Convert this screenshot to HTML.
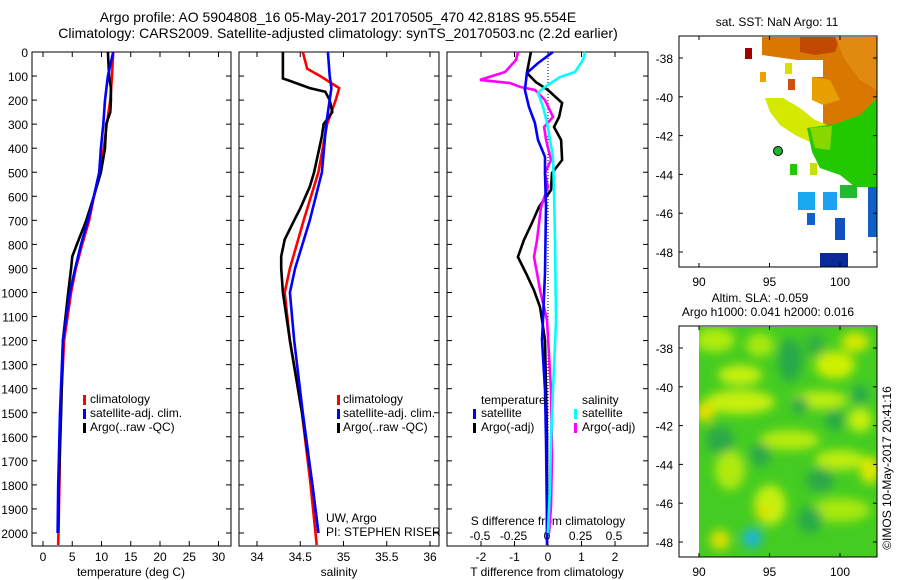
<!DOCTYPE html>
<html><head><meta charset="utf-8"><style>
html,body{margin:0;padding:0;background:#fff}
svg{display:block;font-family:"Liberation Sans",sans-serif}
text{fill:#000}
</style></head><body>
<svg id="fig" width="900" height="580" viewBox="0 0 900 580" xmlns="http://www.w3.org/2000/svg">
<defs>
<filter id="blur4" x="-50%" y="-50%" width="200%" height="200%"><feGaussianBlur stdDeviation="5"/></filter>
<clipPath id="slaclip"><rect x="699" y="327" width="178" height="230"/></clipPath>
</defs>
<g font-size="14" text-anchor="middle">
<text x="338" y="22">Argo profile: AO 5904808_16 05-May-2017 20170505_470 42.818S 95.554E</text>
<text x="338" y="38">Climatology: CARS2009. Satellite-adjusted climatology: synTS_20170503.nc (2.2d earlier)</text>
</g>
<g id="p1"></g>
<g id="p2"></g>
<g id="p3"></g>

<!-- SST map -->
<g>
<text x="777" y="26" font-size="12" text-anchor="middle">sat. SST: NaN Argo: 11</text>
<rect x="679" y="36" width="198" height="231" fill="#fff"/>
<g>
<polygon points="762,37 877,37 877,133 860,135 848,150 835,143 823,128 823,100 812,100 812,77 797,77 797,60 762,55" fill="#d87800"/>
<polygon points="800,37 840,37 835,52 815,55 800,52" fill="#c04800"/>
<polygon points="835,37 877,37 877,90 860,80 845,60" fill="#e08a10"/>
<polygon points="812,77 830,80 840,100 823,105 812,100" fill="#e8a000"/>
<polygon points="797,60 823,60 823,77 797,77" fill="#fff"/>
<polygon points="765,98 783,98 800,108 815,120 830,126 830,146 812,143 795,135 780,125 770,112" fill="#d4e800"/>
<polygon points="807,128 835,124 860,115 877,98 877,187 855,187 840,175 820,168 812,152" fill="#22c800"/>
<polygon points="810,128 832,126 830,150 815,148" fill="#88d800"/>
<polygon points="745,48 752,48 752,59 745,59" fill="#a00000"/>
<polygon points="760,72 766,72 766,82 760,82" fill="#f0a000"/>
<polygon points="785,63 792,63 792,74 785,74" fill="#d8e000"/>
<polygon points="788,79 795,79 795,90 788,90" fill="#d05010"/>
<polygon points="790,164 797,164 797,175 790,175" fill="#22c800"/>
<polygon points="810,163 817,163 817,175 810,175" fill="#c8e000"/>
<polygon points="840,185 857,185 857,198 840,198" fill="#22b830"/>
<polygon points="798,192 815,192 815,210 798,210" fill="#18a8f0"/>
<polygon points="823,192 837,192 837,210 823,210" fill="#20a0f0"/>
<polygon points="807,213 815,213 815,225 807,225" fill="#1060d0"/>
<polygon points="835,218 845,218 845,240 835,240" fill="#1050c0"/>
<polygon points="868,187 877,187 877,237 868,237" fill="#1060c8"/>
<polygon points="820,253 848,253 848,267 820,267" fill="#0a2a98"/>
</g>
<circle cx="778" cy="151" r="4.5" fill="#1cb82c" stroke="#000" stroke-width="1"/>
<rect x="679" y="36" width="198" height="231" fill="none" stroke="#000" stroke-width="1"/>
<g id="sstaxes"></g>
</g>

<!-- SLA map -->
<g>
<text x="760" y="302" font-size="12" text-anchor="middle">Altim. SLA: -0.059</text>
<text x="768" y="316" font-size="12" text-anchor="middle">Argo h1000: 0.041 h2000: 0.016</text>
<rect x="699" y="327" width="178" height="230" fill="#44cc22"/>
<g clip-path="url(#slaclip)">
<g filter="url(#blur4)">
<ellipse cx="715" cy="340" rx="20" ry="12" fill="#b0ec10"/>
<ellipse cx="740" cy="375" rx="22" ry="10" fill="#c8f010"/>
<ellipse cx="760" cy="345" rx="14" ry="12" fill="#a8e810"/>
<ellipse cx="835" cy="365" rx="20" ry="14" fill="#d0f000"/>
<ellipse cx="855" cy="342" rx="14" ry="10" fill="#d8e800"/>
<ellipse cx="740" cy="402" rx="35" ry="12" fill="#c8f010"/>
<ellipse cx="705" cy="412" rx="10" ry="10" fill="#e8e000"/>
<ellipse cx="820" cy="400" rx="28" ry="9" fill="#c0ee10"/>
<ellipse cx="860" cy="420" rx="12" ry="12" fill="#c8f010"/>
<ellipse cx="790" cy="440" rx="30" ry="10" fill="#b8ec10"/>
<ellipse cx="730" cy="470" rx="15" ry="20" fill="#b0ea10"/>
<ellipse cx="840" cy="460" rx="25" ry="10" fill="#c0ee10"/>
<ellipse cx="870" cy="470" rx="10" ry="14" fill="#e0e800"/>
<ellipse cx="770" cy="505" rx="16" ry="20" fill="#c8f010"/>
<ellipse cx="763" cy="512" rx="6" ry="6" fill="#e8d800"/>
<ellipse cx="720" cy="540" rx="10" ry="10" fill="#e0e000"/>
<ellipse cx="840" cy="510" rx="30" ry="12" fill="#a8e810"/>
<ellipse cx="790" cy="360" rx="12" ry="22" fill="#28a84a"/>
<ellipse cx="815" cy="345" rx="10" ry="12" fill="#30b040"/>
<ellipse cx="720" cy="440" rx="14" ry="14" fill="#2aa84a"/>
<ellipse cx="760" cy="455" rx="10" ry="12" fill="#2aa84a"/>
<ellipse cx="820" cy="480" rx="14" ry="12" fill="#2aa84a"/>
<ellipse cx="835" cy="420" rx="10" ry="10" fill="#28a84a"/>
<ellipse cx="800" cy="405" rx="8" ry="8" fill="#22a050"/>
<ellipse cx="860" cy="395" rx="8" ry="10" fill="#28a850"/>
<ellipse cx="810" cy="520" rx="12" ry="14" fill="#28aa48"/>
<ellipse cx="752" cy="538" rx="10" ry="10" fill="#20b8d0"/>
<ellipse cx="755" cy="540" rx="4" ry="4" fill="#10a8f0"/>
</g>
</g>
<rect x="679" y="327" width="20" height="230" fill="#fff"/>
<rect x="679" y="326" width="198" height="231" fill="none" stroke="#000" stroke-width="1"/>
<g id="slaaxes"></g>
<text transform="translate(891,468) rotate(-90)" font-size="12" text-anchor="middle">©IMOS 10-May-2017 20:41:16</text>
</g>

<script>
// ---------- data ----------
const depthTicks = [0,100,200,300,400,500,600,700,800,900,1000,1100,1200,1300,1400,1500,1600,1700,1800,1900,2000];
const tempTicks = [0,5,10,15,20,25,30];
const salTicks = [34,34.5,35,35.5,36];
const salTickLabels = ["34","34.5","35","35.5","36"];
const tdiffTicks = [-2,-1,0,1,2];
const sdiffTicks = [-0.5,-0.25,0,0.25,0.5];
const sdiffTickLabels = ["-0.5","-0.25","0","0.25","0.5"];
const latTicks = [-38,-40,-42,-44,-46,-48];
const lonTicks = [90,95,100];

const tempClimDepth = [0,100,200,300,400,500,600,700,800,900,1000,1200,1500,1800,2050];
const tempClim = [12.0,11.8,11.5,10.9,10.4,9.7,8.7,7.9,6.7,5.6,4.8,3.6,3.0,2.8,2.6];
const tempSatDepth = [0,100,200,300,400,500,600,700,800,900,1000,1200,1500,1800,2000];
const tempSat = [12.0,11.1,10.6,10.3,9.9,9.6,8.7,7.7,6.5,5.5,4.6,3.4,2.9,2.6,2.5];
const tempArgoDepth = [0,100,150,200,250,300,400,500,600,700,800,850,900,1000,1200,1500,1800,2000];
const tempArgo = [11.1,11.3,11.6,11.6,11.5,10.8,10.6,9.9,8.7,7.4,5.8,5.0,4.8,4.3,3.4,3.1,2.7,2.6];

const salClimDepth = [0,70,100,150,200,300,500,700,900,1000,1200,1500,1800,2050];
const salClim = [34.53,34.58,34.73,34.95,34.91,34.81,34.71,34.54,34.38,34.32,34.38,34.52,34.62,34.69];
const salSatDepth = [0,100,150,300,500,700,900,1000,1200,1500,1800,2000];
const salSat = [34.82,34.84,34.86,34.80,34.75,34.61,34.44,34.38,34.43,34.53,34.64,34.71];
const salArgoDepth = [0,110,120,150,165,200,250,300,350,500,560,650,700,780,850,900,1000,1200,1500,1800,2000];
const salArgo = [34.30,34.30,34.38,34.61,34.79,34.84,34.87,34.77,34.75,34.66,34.61,34.50,34.43,34.32,34.28,34.28,34.30,34.38,34.52,34.64,34.71];

const tdArgoDepth = [0,87,125,158,212,270,312,366,449,503,574,644,711,782,852,919,990,1060,1114,1200,1400,1600,2000];
const tdArgo = [-0.51,-0.63,-0.36,0,0.42,0.33,0.18,0.39,0.42,0.12,0.09,-0.27,-0.48,-0.72,-0.9,-0.66,-0.42,-0.24,-0.18,-0.09,-0.06,-0.03,-0.03];
const tdSatDepth = [0,46,87,158,228,295,366,436,503,644,919,1114,1197,1405,1613,1958,2050];
const tdSat = [0.15,-0.3,-0.63,-0.69,-0.57,-0.39,-0.3,-0.09,-0.09,-0.06,-0.09,-0.15,-0.18,-0.09,-0.06,-0.03,-0.03];
const sdSatDepth = [0,33,83,104,145,170,228,295,436,574,782,1114,1405,1613,1821,2000];
const sdSat = [0.284,0.269,0.209,0.097,-0.015,-0.067,-0.03,0,0.045,0.052,0.06,0.067,0.045,0.03,0.022,0.007];
const sdArgoDepth = [0,33,83,116,129,145,158,200,270,312,366,449,503,561,644,782,852,919,990,1114,1405,1683,1890,2000];
const sdArgo = [-0.216,-0.231,-0.313,-0.5,-0.276,-0.201,-0.09,-0.015,0.045,-0.022,-0.007,0.03,-0.015,0.007,-0.045,-0.075,-0.097,-0.075,-0.052,0,0.03,0.037,0.03,0.015];

// ---------- scales ----------
const NS = "http://www.w3.org/2000/svg";
const TOP = 52, BOT = 546;
const yD = d => TOP + d * 0.2405;
const xT = t => 43 + t * 5.85;
const xS = s => 257 + (s - 34) * 86.5;
const xTD = t => 548 + t * 33.5;
const xSD = s => 547 + s * 134;
const lonX = l => 699 + (l - 90) * 14.1;
const latY = l => 58 + (-38 - l) * 19.4;

function mk(tag, attrs, parent) {
  const e = document.createElementNS(NS, tag);
  for (const k in attrs) e.setAttribute(k, attrs[k]);
  parent.appendChild(e);
  return e;
}
function line(parent, x1, y1, x2, y2, extra) {
  return mk('line', Object.assign({x1, y1, x2, y2, stroke: '#000', 'stroke-width': 1}, extra || {}), parent);
}
function series(parent, depths, vals, xf, color, name) {
  const pts = depths.map((d, i) => xf(vals[i]).toFixed(1) + ',' + yD(d).toFixed(1)).join(' ');
  const p = mk('polyline', {points: pts, fill: 'none', stroke: color, 'stroke-width': 2.6, 'stroke-linejoin': 'miter'}, parent);
  
  
}
function frame(parent, x0, x1, name) {
  const r = mk('rect', {x: x0, y: TOP, width: x1 - x0, height: BOT - TOP, fill: 'none', stroke: '#000', 'stroke-width': 1}, parent);
  
  
  depthTicks.forEach(d => {
    line(parent, x0, yD(d), x0 + 5, yD(d));
    line(parent, x1, yD(d), x1 - 5, yD(d));
  });
}
function text(parent, x, y, s, anchor, size, name) {
  const t = mk('text', {x, y, 'font-size': size || 12, 'text-anchor': anchor || 'start'}, parent);
  t.textContent = s;
  
  
  return t;
}
function legendBar(parent, x, y, color, name) {
  const r = mk('rect', {x, y: y - 9, width: 3, height: 10, fill: color}, parent);
  
  
}

// ---------- panel 1: temperature ----------
const p1 = document.getElementById('p1');
frame(p1, 32, 231, 'temperature-plot-frame');
depthTicks.forEach(d => text(p1, 28, yD(d) + 5, String(d), 'end', 12, 'depth-tick-label'));
tempTicks.forEach(t => {
  line(p1, xT(t), BOT, xT(t), BOT - 5);
  line(p1, xT(t), TOP, xT(t), TOP + 5);
  text(p1, xT(t), 561, String(t), 'middle', 12, 'temperature-tick-label');
});
text(p1, 131, 576, 'temperature (deg C)', 'middle', 12, 'temperature-axis-title');
series(p1, tempClimDepth, tempClim, xT, '#ff0000', 'temperature-climatology-line');
series(p1, tempArgoDepth, tempArgo, xT, '#000000', 'temperature-argo-line');
series(p1, tempSatDepth, tempSat, xT, '#0000ff', 'temperature-satellite-line');
legendBar(p1, 83, 404, '#ff0000', 'legend-climatology-swatch');
legendBar(p1, 83, 418, '#0000ff', 'legend-satellite-swatch');
legendBar(p1, 83, 432, '#000000', 'legend-argo-swatch');
text(p1, 90, 403, 'climatology', 'start', 12, 'legend-climatology');
text(p1, 90, 417, 'satellite-adj. clim.', 'start', 12, 'legend-satellite');
text(p1, 90, 431, 'Argo(..raw -QC)', 'start', 12, 'legend-argo');

// ---------- panel 2: salinity ----------
const p2 = document.getElementById('p2');
frame(p2, 239, 439, 'salinity-plot-frame');
salTicks.forEach((s, i) => {
  line(p2, xS(s), BOT, xS(s), BOT - 5);
  line(p2, xS(s), TOP, xS(s), TOP + 5);
  text(p2, xS(s), 561, salTickLabels[i], 'middle', 12, 'salinity-tick-label');
});
text(p2, 339, 576, 'salinity', 'middle', 12, 'salinity-axis-title');
series(p2, salClimDepth, salClim, xS, '#ff0000', 'salinity-climatology-line');
series(p2, salArgoDepth, salArgo, xS, '#000000', 'salinity-argo-line');
series(p2, salSatDepth, salSat, xS, '#0000ff', 'salinity-satellite-line');
legendBar(p2, 337, 404, '#ff0000', 'legend-climatology-swatch');
legendBar(p2, 337, 418, '#0000ff', 'legend-satellite-swatch');
legendBar(p2, 337, 432, '#000000', 'legend-argo-swatch');
text(p2, 343, 403, 'climatology', 'start', 12, 'legend-climatology');
text(p2, 343, 417, 'satellite-adj. clim.', 'start', 12, 'legend-satellite');
text(p2, 343, 431, 'Argo(..raw -QC)', 'start', 12, 'legend-argo');
text(p2, 326, 522, 'UW, Argo', 'start', 12, 'data-source-label');
text(p2, 326, 536, 'PI: STEPHEN RISER', 'start', 12, 'principal-investigator-label');

// ---------- panel 3: differences ----------
const p3 = document.getElementById('p3');
frame(p3, 447, 648, 'difference-plot-frame');
const zl = line(p3, xTD(0), TOP, xTD(0), BOT, {'stroke-dasharray': '1,2'});


tdiffTicks.forEach(t => {
  line(p3, xTD(t), BOT, xTD(t), BOT - 5);
  line(p3, xTD(t), TOP, xTD(t), TOP + 5);
  text(p3, xTD(t), 561, String(t), 'middle', 12, 'tdiff-tick-label');
});
sdiffTicks.forEach((s, i) => text(p3, xSD(s), 540, sdiffTickLabels[i], 'middle', 12, 'sdiff-tick-label'));
text(p3, 547, 576, 'T difference from climatology', 'middle', 12, 'tdiff-axis-title');
text(p3, 548, 525, 'S difference from climatology', 'middle', 12, 'sdiff-axis-title');
series(p3, tdArgoDepth, tdArgo, xTD, '#000000', 'tdiff-argo-line');
series(p3, sdArgoDepth, sdArgo, xSD, '#ff00ff', 'sdiff-argo-line');
series(p3, tdSatDepth, tdSat, xTD, '#0000ff', 'tdiff-satellite-line');
series(p3, sdSatDepth, sdSat, xSD, '#00ffff', 'sdiff-satellite-line');
text(p3, 481, 404, 'temperature', 'start', 12, 'legend-temperature-heading');
text(p3, 582, 404, 'salinity', 'start', 12, 'legend-salinity-heading');
legendBar(p3, 473, 418, '#0000ff', 'legend-t-satellite-swatch');
legendBar(p3, 473, 432, '#000000', 'legend-t-argo-swatch');
legendBar(p3, 574, 418, '#00ffff', 'legend-s-satellite-swatch');
legendBar(p3, 574, 432, '#ff00ff', 'legend-s-argo-swatch');
text(p3, 481, 417, 'satellite', 'start', 12, 'legend-t-satellite');
text(p3, 481, 431, 'Argo(-adj)', 'start', 12, 'legend-t-argo');
text(p3, 582, 417, 'satellite', 'start', 12, 'legend-s-satellite');
text(p3, 582, 431, 'Argo(-adj)', 'start', 12, 'legend-s-argo');

// ---------- map axes ----------
function mapAxes(g, dy) {
  latTicks.forEach(l => {
    const y = latY(l) + dy;
    line(g, 877, y, 873, y);
    line(g, 679, y, 683, y);
    text(g, 673, y + 5, String(l), 'end', 12, 'latitude-tick-label');
  });
  lonTicks.forEach(l => {
    const x = lonX(l);
    line(g, x, 36 + dy, x, 40 + dy);
    line(g, x, 267 + dy, x, 263 + dy);
    text(g, x, 286 + dy, String(l), 'middle', 12, 'longitude-tick-label');
  });
}
mapAxes(document.getElementById('sstaxes'), 0);
mapAxes(document.getElementById('slaaxes'), 290);
</script>
</svg>
</body></html>
